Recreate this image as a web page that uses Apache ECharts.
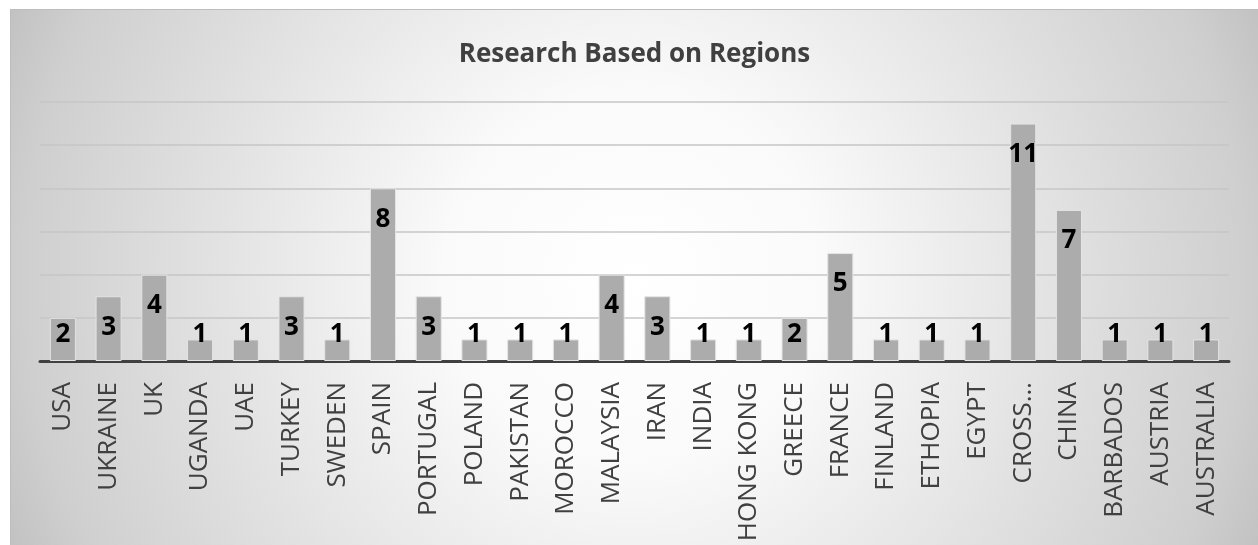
<!DOCTYPE html>
<html lang="en">
<head>
    <meta charset="UTF-8">
    <title>Research Based on Regions</title>
    <script src="https://cdn.jsdelivr.net/npm/echarts/dist/echarts.min.js"></script>
    <style>
        html, body { margin: 0; padding: 0; background: #ffffff; }
        #main {
            position: absolute;
            left: 10px;
            top: 9px;
            width: 1248px;
            height: 536px;
            box-sizing: border-box;
            border-left: 1px solid #bdbdbd;
            border-top: 1px solid #bdbdbd;
            background: radial-gradient(circle at 50% 50%, #ffffff 0%, #fafafa 28%, #f0f0f0 42%, #e0e0e0 65%, #cfcfcf 90%, #c2c2c2 100%);
        }
    </style>
</head>
<body>
    <div id="main"></div>
    <script>
        var regions = ['USA', 'UKRAINE', 'UK', 'UGANDA', 'UAE', 'TURKEY', 'SWEDEN', 'SPAIN',
            'PORTUGAL', 'POLAND', 'PAKISTAN', 'MOROCCO', 'MALAYSIA', 'IRAN', 'INDIA',
            'HONG KONG', 'GREECE', 'FRANCE', 'FINLAND', 'ETHOPIA', 'EGYPT', 'CROSS\u2026',
            'CHINA', 'BARBADOS', 'AUSTRIA', 'AUSTRALIA'];
        var counts = [2, 3, 4, 1, 1, 3, 1, 8, 3, 1, 1, 1, 4, 3, 1, 1, 2, 5, 1, 1, 1, 11, 7, 1, 1, 1];

        var font = '"Open Sans", "Liberation Sans", sans-serif';

        // short bars get their label pushed up off the axis, like Excel does
        var barData = counts.map(function (v) {
            var lbl = v < 3
                ? { position: 'insideBottom', distance: 13 }
                : { position: 'insideTop', distance: 18 };
            return { value: v, label: lbl };
        });

        var chart = echarts.init(document.getElementById('main'));
        var option = {
            animation: false,
            title: {
                text: 'Research Based on Regions',
                left: 'center',
                top: 27,
                textStyle: {
                    fontFamily: font,
                    fontSize: 26,
                    fontWeight: 'bold',
                    color: '#404040'
                }
            },
            grid: {
                left: 29,
                right: 29,
                top: 92,
                bottom: 184
            },
            xAxis: {
                type: 'category',
                data: regions,
                axisTick: { show: false },
                axisLine: {
                    lineStyle: { color: '#404040', width: 3 }
                },
                axisLabel: {
                    rotate: 90,
                    interval: 0,
                    margin: 21,
                    fontFamily: font,
                    fontSize: 26,
                    color: '#404040'
                }
            },
            yAxis: {
                type: 'value',
                min: 0,
                max: 12,
                interval: 2,
                axisLabel: { show: false },
                axisLine: { show: false },
                axisTick: { show: false },
                splitLine: {
                    lineStyle: { color: '#c6c6c6', width: 1.5 }
                }
            },
            series: [{
                name: 'Research',
                type: 'bar',
                data: barData,
                barCategoryGap: '43%',
                itemStyle: {
                    color: '#acacac',
                    borderColor: '#e4e4e4',
                    borderWidth: 1
                },
                label: {
                    show: true,
                    fontFamily: font,
                    fontSize: 26,
                    fontWeight: 'bold',
                    color: '#000000'
                }
            }]
        };

        chart.setOption(option);
    </script>
</body>
</html>
